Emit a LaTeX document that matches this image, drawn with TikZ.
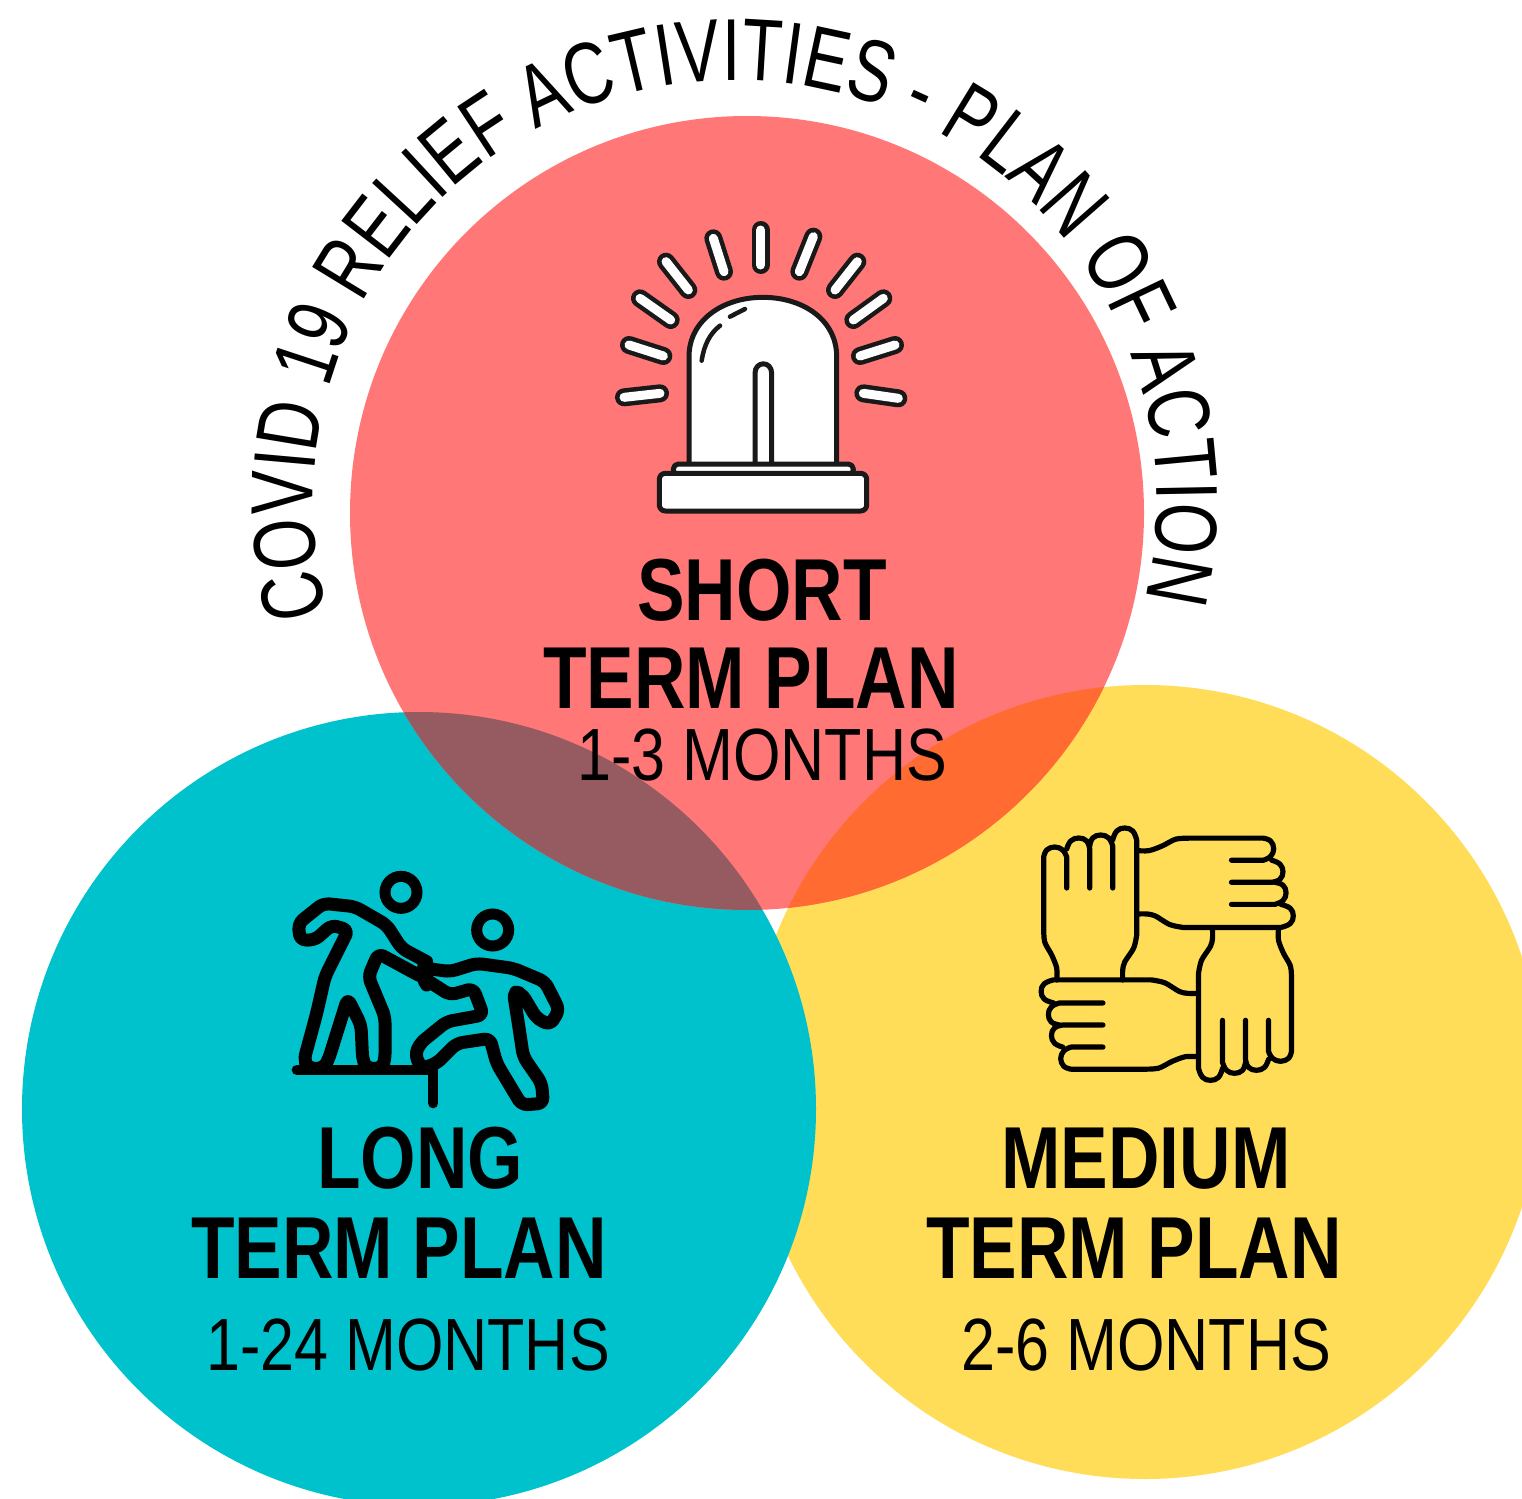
\documentclass[tikz,border=0pt]{standalone}
\usepackage{fontspec}
\usetikzlibrary{decorations.text}
\newfontfamily\headfont[FakeStretch=0.81]{Liberation Sans}
\newfontfamily\subfont[FakeStretch=0.825]{Liberation Sans}
\newfontfamily\titlefont[FakeStretch=0.75]{Liberation Sans}
\definecolor{cRed}{HTML}{FF7777}
\definecolor{cTeal}{HTML}{00C2CC}
\definecolor{cYellow}{HTML}{FFDD59}
\definecolor{cMauve}{HTML}{955B60}
\definecolor{cOrange}{HTML}{FF6B30}
\tikzset{
  headtext/.style={font=\headfont\bfseries\fontsize{88}{88}\selectfont,anchor=base,inner sep=0pt,text=black},
  subtext/.style={font=\subfont\fontsize{74}{74}\selectfont,anchor=base,inner sep=0pt,text=black},
  zoomA/.style={x=0.33333pt,y=-0.33333pt},
  rayOuter/.style={line width=18pt,line cap=round,draw=black!90},
  rayInner/.style={line width=9pt,line cap=round,draw=white},
  sirenline/.style={line width=5pt,draw=black!90,fill=white,line join=round},
  rescueline/.style={line width=13pt,draw=black,line join=round,line cap=round,rounded corners=6pt},
  handline/.style={line width=5.2pt,draw=black,line join=round,line cap=round}
}
\newcommand{\handshape}{%
  \draw[handline] plot[smooth,tension=.5] coordinates {(-33,0) (-33,-12) (-38,-25) (-45,-38) (-46,-52)} -- (-46,-123)
     plot[smooth,tension=.7] coordinates {(-46,-123) (-43,-130) (-35,-133) (-27,-130) (-23,-123)} -- (-23,-92);
  \draw[handline] plot[smooth,tension=.7] coordinates {(-23,-131) (-19,-139) (-11,-142) (-3,-139) (0,-131)} -- (0,-92);
  \draw[handline] plot[smooth,tension=.7] coordinates {(0,-134) (3,-142) (11,-145) (19,-142) (23,-134)} -- (23,-92);
  \draw[handline] plot[smooth,tension=.7] coordinates {(23,-140) (27,-149) (35,-152) (43,-149) (47,-140)} -- (47,-45)
     plot[smooth,tension=.5] coordinates {(47,-45) (44,-32) (35,-18) (33,-10) (33,0)};
}
\begin{document}
\begin{tikzpicture}[x=1pt,y=-1pt]
\useasboundingbox (0,0) rectangle (1522,1498);
\begin{scope}
\clip (0,0) rectangle (1522,1498);
\fill[cYellow] (1145,1082) circle[radius=397pt];
\fill[cTeal] (419,1109) circle[radius=397pt];
\fill[cRed] (747,513) circle[radius=397pt];
\begin{scope}
  \clip (747,513) circle[radius=397pt];
  \fill[cOrange] (1145,1082) circle[radius=397pt];
  \fill[cMauve] (419,1109) circle[radius=397pt];
\end{scope}
\end{scope}

% curved title
\path[decorate,decoration={text along path,text align=center,
  text format delimiters={|}{|},
  text={|\titlefont\fontsize{88}{88}\selectfont|COVID 19 RELIEF ACTIVITIES - PLAN OF ACTION}}]
  plot[domain=164.6:373.4,samples=240] ({735+422*cos(\x)},{502+422*sin(\x)});

% siren icon
\begin{scope}[shift={(600,210)},zoomA]
  \foreach \xa/\ya/\xb/\yb in {482/60/482/165,340/85/372/185,198/155/265/240,120/265/212/330,87/405/190/438,72/562/180/550,640/80/598/185,772/155/705/240,850/265/760/330,885/405/780/438,895/565/790/550}{
    \draw[rayOuter] (\xa,\ya) -- (\xb,\yb);
    \draw[rayInner] (\xa,\ya) -- (\xb,\yb);
  }
  \draw[sirenline] (267,770) -- (267,440) .. controls (267,330) and (370,262) .. (488,262) .. controls (610,262) and (710,330) .. (710,440) -- (710,770) -- cycle;
  \draw[sirenline] (465,765) -- (465,490) .. controls (465,452) and (515,452) .. (515,490) -- (515,765);
  \draw[line width=4.5pt,black!90,line cap=round] (305,452) .. controls (312,405) and (330,370) .. (360,347);
  \draw[line width=4.5pt,black!90,line cap=round] (390,320) -- (435,297);
  \draw[sirenline,rounded corners=5pt] (220,795) rectangle (760,762);
  \draw[sirenline,rounded corners=6pt] (178,790) rectangle (800,903);
\end{scope}

% rescue icon
\begin{scope}[shift={(280,860)},zoomA]
  \draw[line width=11pt] (363,97) circle[radius=16pt];
  \draw[line width=11pt] (638,210) circle[radius=16pt];
  \draw[rescueline] (440,305) -- (365,265) -- (320,195) -- (225,140) -- (130,130) -- (55,190) -- (60,240) -- (105,240) -- (155,195) -- (205,210) -- (135,350) -- (110,460) -- (72,600) -- (85,625) -- (130,625) -- (145,600) -- (203,415) -- (243,495) -- (248,600) -- (260,625) -- (305,625) -- (315,600) -- (315,470) -- (265,350) -- (295,280) -- (415,345);
  \draw[rescueline] (435,305) -- (425,350) -- (440,375);
  \draw[rescueline] (440,325) -- (510,335) -- (590,310) -- (700,325) -- (795,365) -- (838,450) -- (810,495) -- (770,475) -- (725,400) -- (700,395) -- (715,490) -- (730,590) -- (785,670) -- (790,730) -- (725,735) -- (650,610) -- (630,535) -- (530,550) -- (470,610) -- (425,625) -- (405,585) -- (420,550) -- (500,485) -- (610,465) -- (580,385) -- (510,405) -- (440,360);
  \draw[line width=10pt,line cap=round,line join=round] (50,630) -- (460,630) -- (460,730);
\end{scope}

% hands icon
\begin{scope}[shift={(1089.7,980)}]\handshape\end{scope}
\begin{scope}[shift={(1136.7,882.3)},rotate=-90,xscale=.96,yscale=1.03]\handshape\end{scope}
\begin{scope}[shift={(1245.5,928.3)},rotate=180]\handshape\end{scope}
\begin{scope}[shift={(1197.7,1025)},rotate=90,xscale=.96,yscale=1.03]\handshape\end{scope}

% labels
\node[headtext] (shortA) at (762,620) {SHORT};
\node[headtext] (shortB) at (751,708) {TERM PLAN};
\node[subtext] (shortC) at (762,780) {1-3 MONTHS};
\node[headtext] (longA) at (420,1188) {LONG};
\node[headtext] (longB) at (399,1278) {TERM PLAN};
\node[subtext] (longC) at (408,1370) {1-24 MONTHS};
\node[headtext] (medA) at (1146,1188) {MEDIUM};
\node[headtext] (medB) at (1134,1278) {TERM PLAN};
\node[subtext] (medC) at (1146,1370) {2-6 MONTHS};
\end{tikzpicture}
\end{document}
